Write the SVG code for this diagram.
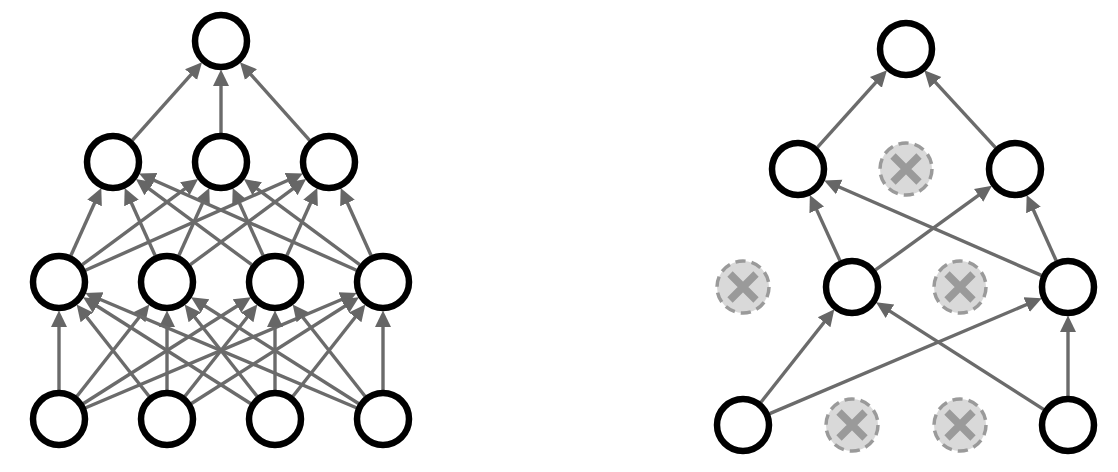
<svg xmlns="http://www.w3.org/2000/svg" width="1118" height="472" viewBox="0 0 1118 472">
<style>
.n{fill:#fff;stroke:#000;stroke-width:6.5}
.d{fill:#d9d9d9;stroke:#9a9a9a;stroke-width:3.5;stroke-dasharray:10.3 6}
.x{stroke:#9a9a9a;stroke-width:7.5;fill:none}
.e{stroke:#6b6b6b;stroke-width:3.4;fill:none;marker-end:url(#ah)}
</style>
<defs>
<marker id="ah" markerUnits="userSpaceOnUse" viewBox="0 -9 19 18" markerWidth="19" markerHeight="18" refX="2" refY="0" orient="auto">
<path d="M0,-8 L16.5,0 L0,8 Z" fill="#666"/>
</marker>
</defs>
<rect width="1118" height="472" fill="#fff"/>
<g id="connectors">
<line class="e" x1="59" y1="390" x2="59" y2="325"/>
<line class="e" x1="76.95" y1="396.23" x2="140.38" y2="315.77"/>
<line class="e" x1="83.49" y1="403.47" x2="238.69" y2="305.03"/>
<line class="e" x1="85.71" y1="407.71" x2="343.40" y2="298.75"/>
<line class="e" x1="149.05" y1="396.23" x2="85.62" y2="315.77"/>
<line class="e" x1="167" y1="390" x2="167" y2="325"/>
<line class="e" x1="184.95" y1="396.23" x2="248.38" y2="315.77"/>
<line class="e" x1="191.49" y1="403.47" x2="346.69" y2="305.03"/>
<line class="e" x1="250.51" y1="403.47" x2="95.31" y2="305.03"/>
<line class="e" x1="257.05" y1="396.23" x2="193.62" y2="315.77"/>
<line class="e" x1="275" y1="390" x2="275" y2="325"/>
<line class="e" x1="292.95" y1="396.23" x2="356.38" y2="315.77"/>
<line class="e" x1="356.29" y1="407.71" x2="98.60" y2="298.75"/>
<line class="e" x1="358.51" y1="403.47" x2="203.31" y2="305.03"/>
<line class="e" x1="365.05" y1="396.23" x2="301.62" y2="315.77"/>
<line class="e" x1="383" y1="390" x2="383" y2="325"/>
<line class="e" x1="70.90" y1="255.55" x2="95.35" y2="201.21"/>
<line class="e" x1="82.30" y1="264.74" x2="186.45" y2="187.60"/>
<line class="e" x1="85.50" y1="270.22" x2="289.71" y2="179.46"/>
<line class="e" x1="155.10" y1="255.55" x2="130.65" y2="201.21"/>
<line class="e" x1="178.90" y1="255.55" x2="203.35" y2="201.21"/>
<line class="e" x1="190.30" y1="264.74" x2="294.45" y2="187.60"/>
<line class="e" x1="251.70" y1="264.74" x2="147.55" y2="187.60"/>
<line class="e" x1="263.10" y1="255.55" x2="238.65" y2="201.21"/>
<line class="e" x1="286.90" y1="255.55" x2="311.35" y2="201.21"/>
<line class="e" x1="356.50" y1="270.22" x2="152.29" y2="179.46"/>
<line class="e" x1="359.70" y1="264.74" x2="255.55" y2="187.60"/>
<line class="e" x1="371.10" y1="255.55" x2="346.65" y2="201.21"/>
<line class="e" x1="132.31" y1="140.37" x2="192.37" y2="73.08"/>
<line class="e" x1="221" y1="133" x2="221" y2="84"/>
<line class="e" x1="309.69" y1="140.37" x2="249.63" y2="73.08"/>
<line class="e" x1="760.97" y1="402.24" x2="825.35" y2="320.74"/>
<line class="e" x1="769.69" y1="413.67" x2="1028.42" y2="303.81"/>
<line class="e" x1="1043.56" y1="409.39" x2="888.24" y2="310.15"/>
<line class="e" x1="1068" y1="396" x2="1068" y2="330"/>
<line class="e" x1="839.93" y1="260.63" x2="815.89" y2="208.10"/>
<line class="e" x1="875.49" y1="269.99" x2="980.17" y2="194.21"/>
<line class="e" x1="1041.43" y1="275.39" x2="837.40" y2="186.22"/>
<line class="e" x1="1056.12" y1="260.55" x2="1032.62" y2="208.22"/>
<line class="e" x1="817.40" y1="147.44" x2="877.23" y2="80.96"/>
<line class="e" x1="995.50" y1="147.53" x2="934.09" y2="80.83"/>
</g>
<g id="left-out"><circle class="n" cx="221" cy="41" r="26"/></g>
<g id="left-h2-1"><circle class="n" cx="113" cy="162" r="26"/></g>
<g id="left-h2-2"><circle class="n" cx="221" cy="162" r="26"/></g>
<g id="left-h2-3"><circle class="n" cx="329" cy="162" r="26"/></g>
<g id="left-h1-1"><circle class="n" cx="59" cy="282" r="26"/></g>
<g id="left-h1-2"><circle class="n" cx="167" cy="282" r="26"/></g>
<g id="left-h1-3"><circle class="n" cx="275" cy="282" r="26"/></g>
<g id="left-h1-4"><circle class="n" cx="383" cy="282" r="26"/></g>
<g id="left-in-1"><circle class="n" cx="59" cy="419" r="26"/></g>
<g id="left-in-2"><circle class="n" cx="167" cy="419" r="26"/></g>
<g id="left-in-3"><circle class="n" cx="275" cy="419" r="26"/></g>
<g id="left-in-4"><circle class="n" cx="383" cy="419" r="26"/></g>
<g id="right-out"><circle class="n" cx="906" cy="49" r="26"/></g>
<g id="right-h2-1"><circle class="n" cx="798" cy="169" r="26"/></g>
<g id="right-h2-2"><circle class="d" cx="906" cy="169" r="26"/><path class="x" d="M893,156 L919,182 M919,156 L893,182"/></g>
<g id="right-h2-3"><circle class="n" cx="1015" cy="169" r="26"/></g>
<g id="right-h1-1"><circle class="d" cx="743" cy="287" r="26"/><path class="x" d="M730,274 L756,300 M756,274 L730,300"/></g>
<g id="right-h1-2"><circle class="n" cx="852" cy="287" r="26"/></g>
<g id="right-h1-3"><circle class="d" cx="960" cy="287" r="26"/><path class="x" d="M947,274 L973,300 M973,274 L947,300"/></g>
<g id="right-h1-4"><circle class="n" cx="1068" cy="287" r="26"/></g>
<g id="right-in-1"><circle class="n" cx="743" cy="425" r="26"/></g>
<g id="right-in-2"><circle class="d" cx="852" cy="425" r="26"/><path class="x" d="M839,412 L865,438 M865,412 L839,438"/></g>
<g id="right-in-3"><circle class="d" cx="960" cy="425" r="26"/><path class="x" d="M947,412 L973,438 M973,412 L947,438"/></g>
<g id="right-in-4"><circle class="n" cx="1068" cy="425" r="26"/></g>
</svg>
